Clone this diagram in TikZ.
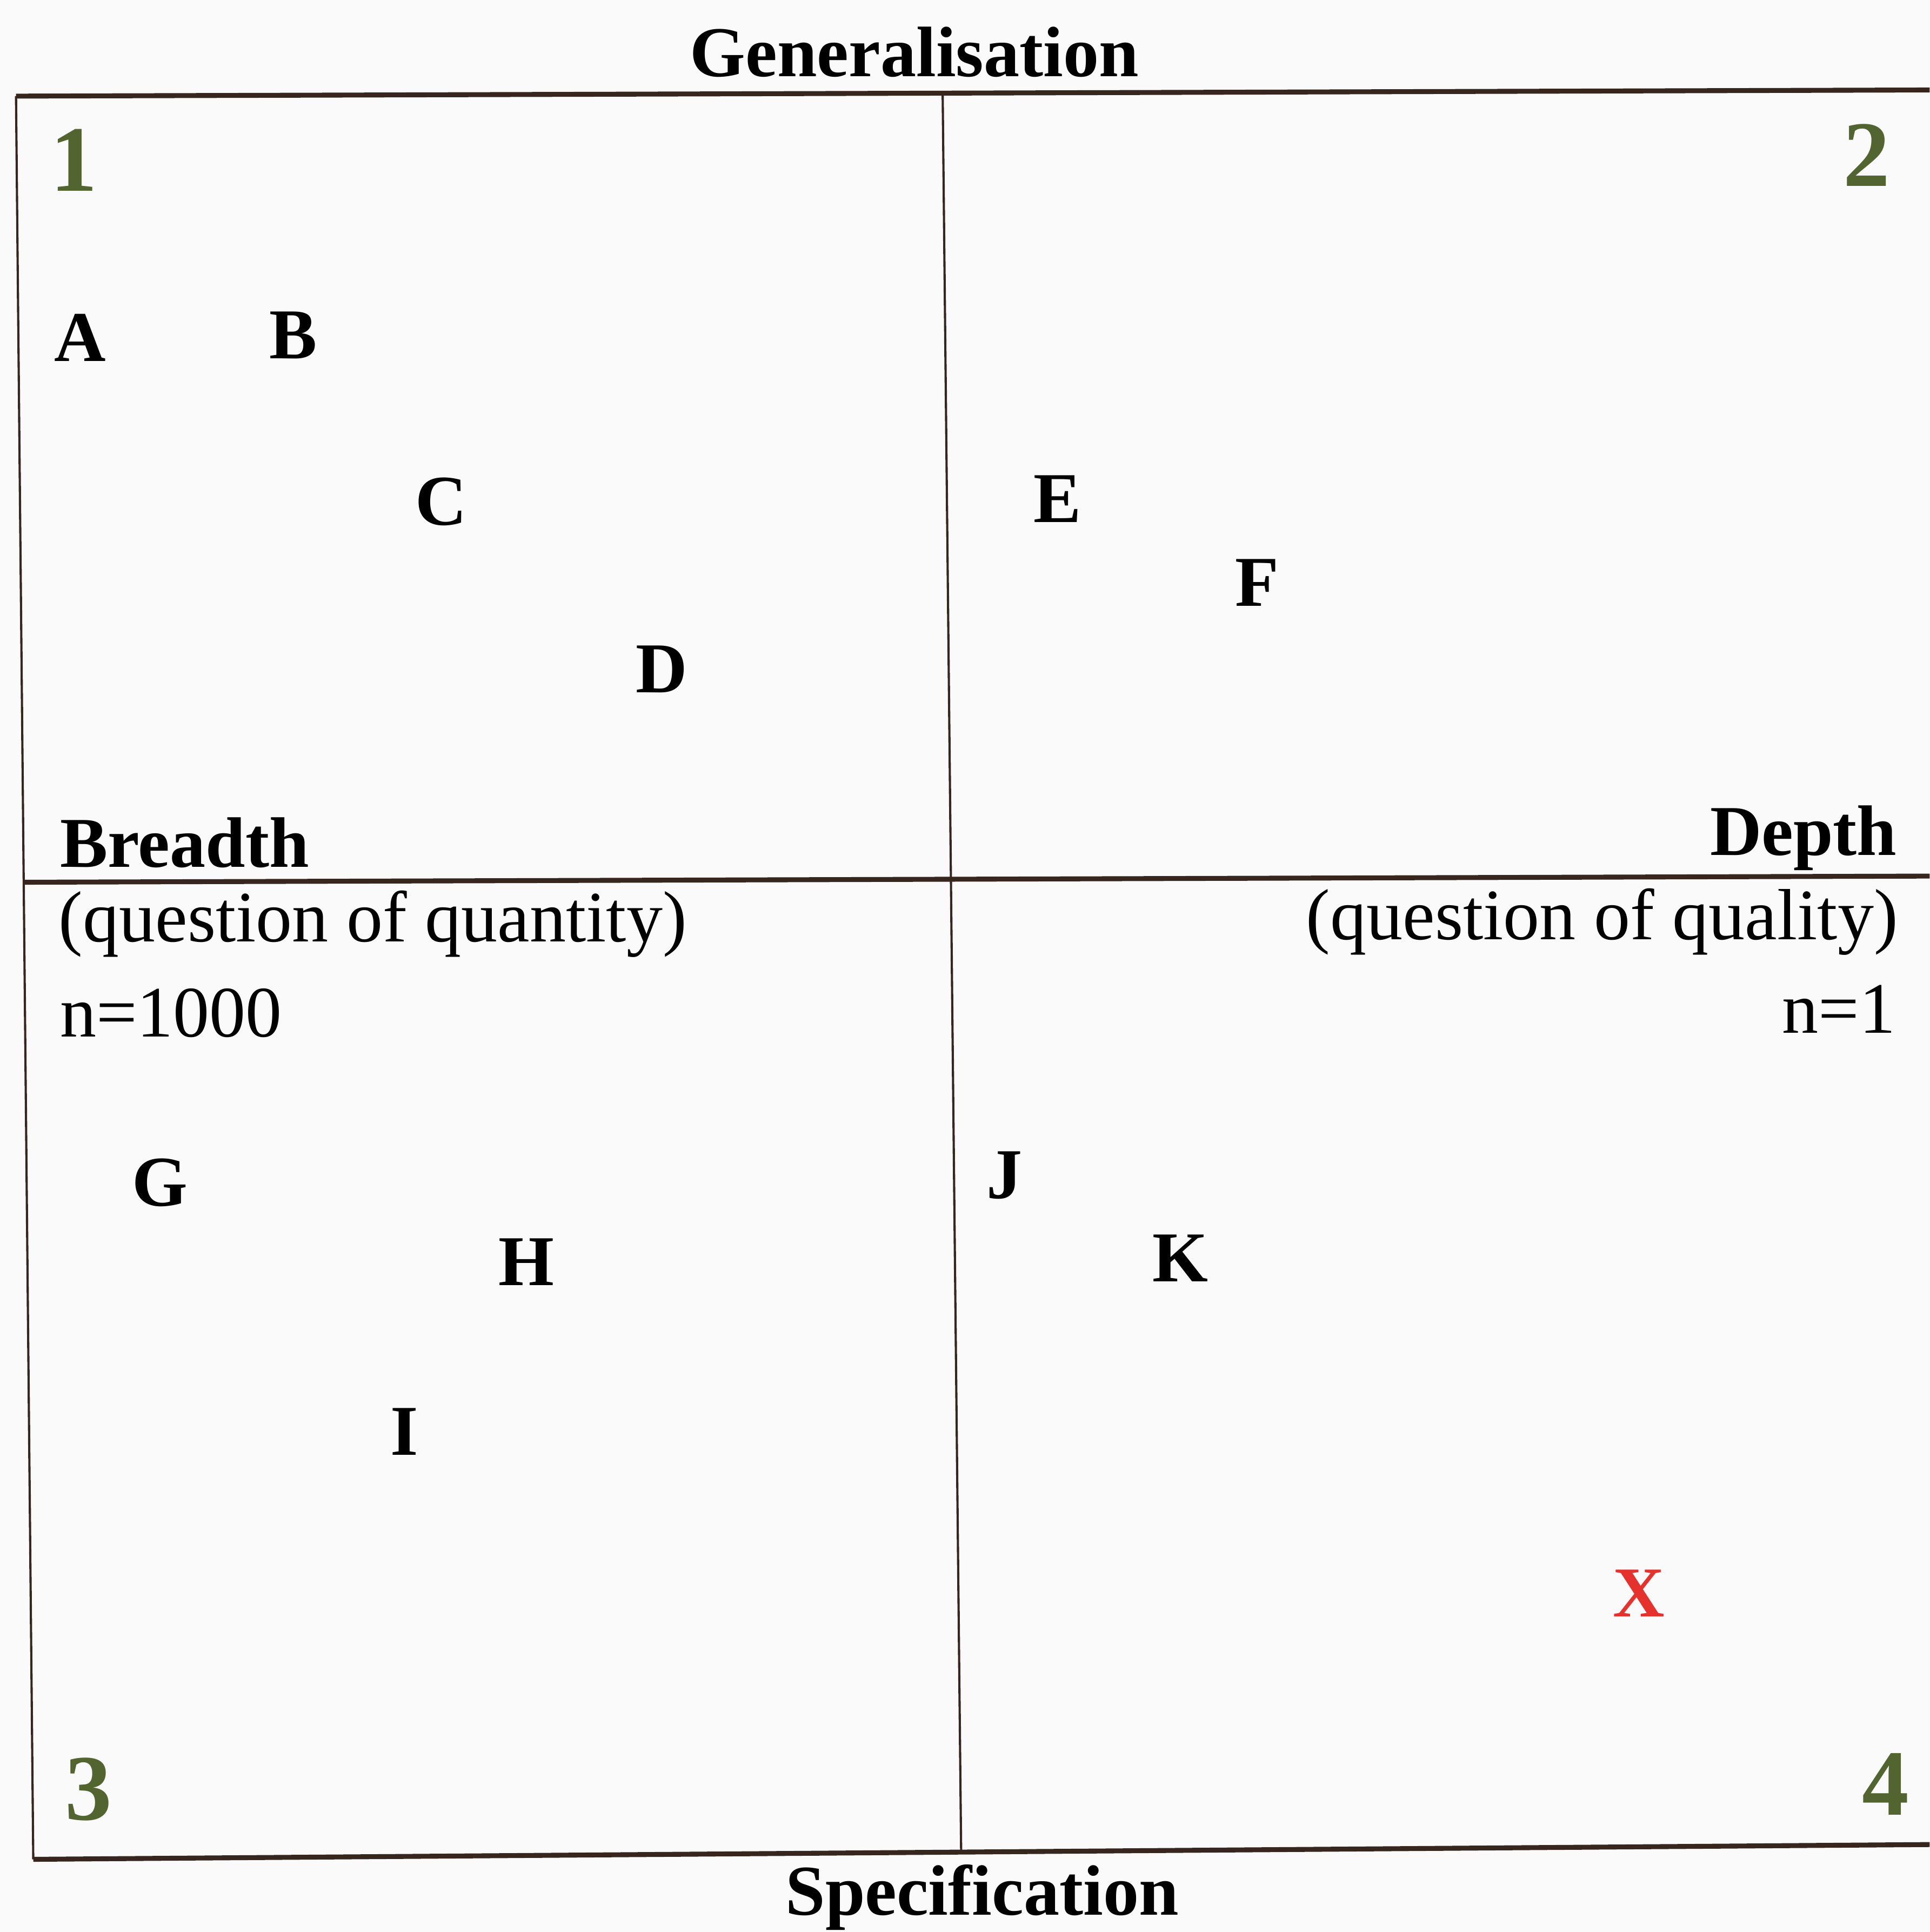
\documentclass[tikz,border=0pt]{standalone}
\usepackage{fontspec}
\setmainfont{Liberation Serif}
\definecolor{bg}{RGB}{250,250,251}
\definecolor{rule}{RGB}{55,38,30}
\definecolor{numgreen}{RGB}{82,100,48}
\definecolor{xred}{RGB}{230,50,45}
\tikzset{
  lbl/.style={inner sep=0pt, font=\fontsize{14.5}{17}\selectfont\bfseries},
  txt/.style={inner sep=0pt, font=\fontsize{14.7}{17}\selectfont},
  num/.style={inner sep=0pt, text=numgreen, font=\fontsize{19}{22}\selectfont\bfseries},
  hline/.style={draw=rule, line width=1.0pt},
  vline/.style={draw=rule, line width=0.45pt}
}
\begin{document}
\begin{tikzpicture}[x=0.25pt,y=-0.25pt]
\useasboundingbox[fill=bg] (0,0) rectangle (1566,1568);
% frame corners
\coordinate (tl) at (13,78);
\coordinate (tr) at (1566,73);
\coordinate (ml) at (19,716);
\coordinate (mr) at (1566,711);
\coordinate (bl) at (27,1509);
\coordinate (br) at (1566,1497);
\coordinate (vt) at (765,76);
\coordinate (vb) at (780,1503);
\draw[hline] (tl) -- (tr);
\draw[hline] (ml) -- (mr);
\draw[hline] (bl) -- (br);
\draw[vline] (tl) -- (bl);
\draw[vline] (vt) -- (vb);
% headings
\node[lbl] (gen) at (742,42) {Generalisation};
\node[lbl] (spec) at (797,1540) {Specification};
\node[lbl, anchor=west] (breadth) at (48,684) {Breadth};
\node[lbl, anchor=east] (depth) at (1540,680) {Depth};
\node[txt, anchor=west] (qquant) at (47,750) {(question of quantity)};
\node[txt, anchor=east] (qqual) at (1541,748) {(question of quality)};
\node[txt, anchor=west] (n1000) at (48,822) {n=1000};
\node[txt, anchor=east] (n1) at (1539,819) {n=1};
% quadrant numbers
\node[num] (q1) at (60,130) {1};
\node[num] (q2) at (1515,126) {2};
\node[num] (q3) at (72,1452) {3};
\node[num] (q4) at (1530,1448) {4};
% letters
\node[lbl] (A) at (65,274) {A};
\node[lbl] (B) at (238,272) {B};
\node[lbl] (C) at (358,407) {C};
\node[lbl] (D) at (537,543) {D};
\node[lbl] (E) at (858,405) {E};
\node[lbl] (F) at (1020,473) {F};
\node[lbl] (G) at (130,960) {G};
\node[lbl] (H) at (427,1024) {H};
\node[lbl] (I) at (328,1162) {I};
\node[lbl] (J) at (815,954) {J};
\node[lbl] (K) at (958,1021) {K};
\node[lbl, text=xred] (X) at (1330,1293) {X};
\end{tikzpicture}
\end{document}
